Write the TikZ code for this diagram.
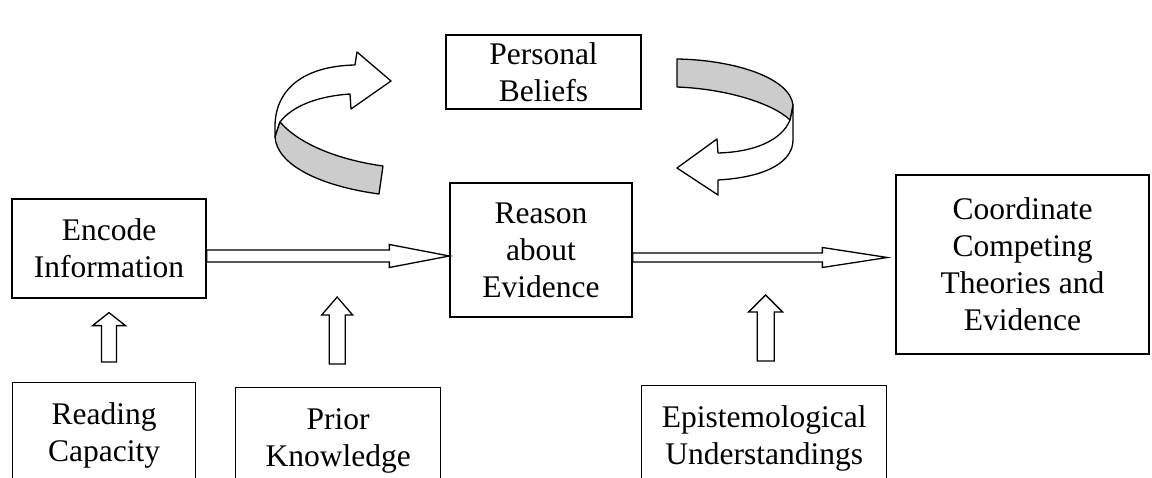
\documentclass[tikz,border=0pt]{standalone}
\usepackage{fontspec}
\setmainfont{Liberation Serif}
\usetikzlibrary{calc}
\tikzset{
  box/.style={draw, line width=1.3pt, align=center, inner sep=2pt,
    font=\fontsize{31.5}{37}\selectfont},
  lowbox/.style={box, anchor=north west, inner ysep=20pt, text height=22pt, text depth=150pt},
  blk/.style={draw, line width=1.3pt, fill=white, line join=miter},
  ribbon/.style={draw, line width=1.3pt, line join=round},
  backface/.style={ribbon, fill=black!20},
  frontface/.style={ribbon, fill=white},
}
\begin{document}
\begin{tikzpicture}[x=1pt,y=-1pt]
\clip (0,0) rectangle (1152,478);

% boxes
\node[box, minimum width=195, minimum height=74] (pb) at (543.5,72) {Personal\\Beliefs};
\node[box, minimum width=182, minimum height=134] (rae) at (541,250) {Reason\\about\\Evidence};
\node[box, minimum width=194, minimum height=99] (enc) at (109,248.5) {Encode\\Information};
\node[box, minimum width=253, minimum height=179] (cct) at (1022.5,264.5) {Coordinate\\Competing\\Theories and\\Evidence};
\node[lowbox, text width=179] (rc) at (12,382) {Reading\\Capacity};
\node[lowbox, text width=201] (pk) at (235,387) {Prior\\Knowledge};
\node[lowbox, text width=241] (ep) at (641,385) {Epistemological\\Understandings};

% horizontal block arrows
\draw[blk] let \p1=([yshift=-7.5pt]enc.east), \p2=(rae.west) in
  (\x1,\y1+6pt) -- (\x2-60pt,\y1+6pt) -- (\x2-60pt,\y1+11.5pt) -- (\x2,\y1)
  -- (\x2-60pt,\y1-11.5pt) -- (\x2-60pt,\y1-6pt) -- (\x1,\y1-6pt) -- cycle;
\draw[blk] let \p1=([yshift=-7.5pt]rae.east), \p2=([xshift=-8pt]cct.west) in
  (\x1,\y1+4.5pt) -- (\x2-65pt,\y1+4.5pt) -- (\x2-65pt,\y1+10pt) -- (\x2,\y1)
  -- (\x2-65pt,\y1-10pt) -- (\x2-65pt,\y1-4.5pt) -- (\x1,\y1-4.5pt) -- cycle;

% vertical block arrows
\draw[blk] let \p1=(rc.north), \p2=(enc.south) in
  (\x2-7.5pt,\y1+20pt) -- (\x2-7.5pt,\y2-27pt) -- (\x2-16.5pt,\y2-27pt) -- (\x2,\y2-14pt)
  -- (\x2+16.5pt,\y2-27pt) -- (\x2+7.5pt,\y2-27pt) -- (\x2+7.5pt,\y1+20pt) -- cycle;
\draw[blk] let \p1=([xshift=-1pt]pk.north) in
  (\x1-8pt,\y1+23pt) -- (\x1-8pt,\y1+72pt) -- (\x1-15.5pt,\y1+72pt) -- (\x1,\y1+90pt)
  -- (\x1+15.5pt,\y1+72pt) -- (\x1+8pt,\y1+72pt) -- (\x1+8pt,\y1+23pt) -- cycle;
\draw[blk] let \p1=([xshift=1.5pt]ep.north) in
  (\x1-8.5pt,\y1+24pt) -- (\x1-8.5pt,\y1+73pt) -- (\x1-17pt,\y1+73pt) -- (\x1,\y1+90pt)
  -- (\x1+17pt,\y1+73pt) -- (\x1+8.5pt,\y1+73pt) -- (\x1+8.5pt,\y1+24pt) -- cycle;

% left curved ribbon arrow
\filldraw[frontface] (280,122) .. controls (293,105) and (320,96) .. (350,94)
  -- (351,109) -- (391,81) -- (357,52) -- (355,65)
  .. controls (305,66) and (276,88) .. (275,125) -- (275,137) -- cycle;
\filldraw[backface] (280,122) .. controls (300,145) and (340,160) .. (383,166)
  -- (379,194) .. controls (320,186) and (277,165) .. (275,137) -- cycle;

% right curved ribbon arrow
\filldraw[frontface] (790,120) .. controls (782,140) and (755,152) .. (718,153)
  -- (717,139) -- (677,168) -- (718,195) -- (718,180)
  .. controls (770,177) and (793,160) .. (793,140) -- (793,105) -- cycle;
\filldraw[backface] (677,59) .. controls (735,60) and (790,78) .. (793,105)
  -- (790,120) .. controls (775,105) and (730,89) .. (677,87) -- cycle;
\end{tikzpicture}
\end{document}
